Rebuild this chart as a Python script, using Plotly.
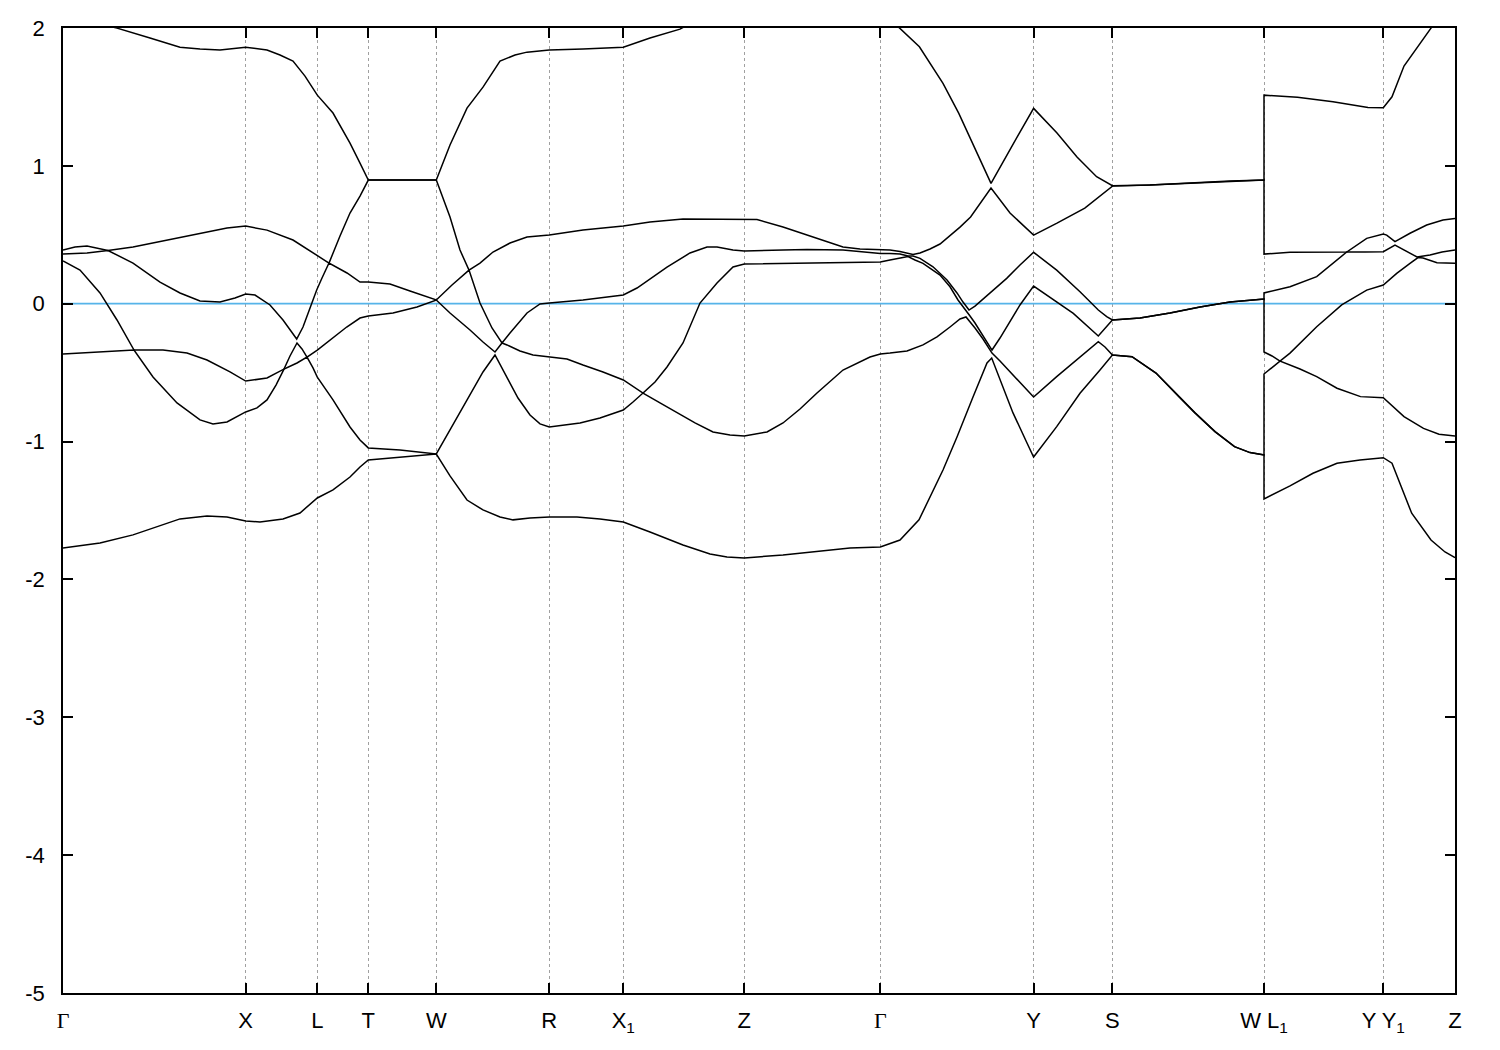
import plotly.graph_objects as go

# High-symmetry path positions (arbitrary path-length units) and labels
k_sym = [0.0, 0.1827, 0.2543, 0.3053, 0.3733, 0.4863, 0.5603, 0.6813,
         0.8173, 0.9706, 1.0494, 1.2010, 1.3203, 1.3920]
GAM = '<span style="font-family:Liberation Serif">Γ</span>'
k_labels = [GAM, "X", "L", "T", "W", "R", "X<sub>1</sub>", "Z",
            GAM, "Y", "S", "W L<sub>1</sub>", "Y Y<sub>1</sub>", "Z"]

y_ticks = [2, 1, 0, -1, -2, -3, -4, -5]
y_ticklabels = ["2", "1", "0", "-1", "-2", "-3", "-4", "-5"]

fermi_level = 0.0

# Bands (k, E in eV), sorted by energy index
band1 = [(0, -1.772), (0.037, -1.735), (0.070, -1.677), (0.117, -1.561), (0.144, -1.540),
         (0.164, -1.547), (0.1827, -1.576), (0.197, -1.583), (0.220, -1.561), (0.237, -1.518),
         (0.2543, -1.409), (0.270, -1.351), (0.287, -1.257), (0.297, -1.184), (0.3053, -1.133),
         (0.337, -1.112), (0.3733, -1.090), (0.387, -1.249), (0.404, -1.424), (0.420, -1.496),
         (0.437, -1.547), (0.450, -1.568), (0.467, -1.554), (0.4863, -1.547), (0.514, -1.547),
         (0.537, -1.561), (0.5603, -1.583), (0.587, -1.656), (0.620, -1.750), (0.647, -1.815),
         (0.664, -1.837), (0.6813, -1.844), (0.720, -1.822), (0.787, -1.772), (0.8173, -1.764),
         (0.837, -1.714), (0.856, -1.568), (0.880, -1.206), (0.894, -0.967), (0.910, -0.677),
         (0.924, -0.430), (0.9287, -0.394), (0.937, -0.553), (0.950, -0.792), (0.964, -1.010),
         (0.9706, -1.112), (0.9937, -0.892), (1.017, -0.650), (1.037, -0.481), (1.0494, -0.372),
         (1.069, -0.384), (1.093, -0.503), (1.116, -0.674), (1.132, -0.792), (1.152, -0.928),
         (1.1715, -1.037), (1.187, -1.080), (1.201, -1.097), (1.201, -1.416), (1.227, -1.322),
         (1.250, -1.230), (1.274, -1.157), (1.297, -1.133), (1.3203, -1.117), (1.329, -1.157),
         (1.339, -1.336), (1.3487, -1.520), (1.368, -1.714), (1.382, -1.801), (1.392, -1.842)]

band2 = [(0, -0.365), (0.037, -0.350), (0.071, -0.336), (0.090, -0.532), (0.114, -0.720),
         (0.137, -0.843), (0.150, -0.872), (0.164, -0.858), (0.1827, -0.785), (0.194, -0.756),
         (0.204, -0.698), (0.213, -0.590), (0.221, -0.474), (0.234, -0.430), (0.244, -0.387),
         (0.250, -0.466), (0.2543, -0.532), (0.270, -0.698), (0.287, -0.894), (0.297, -0.988),
         (0.3053, -1.046), (0.337, -1.061), (0.3733, -1.090), (0.387, -0.916), (0.405, -0.684),
         (0.420, -0.495), (0.432, -0.372), (0.444, -0.532), (0.455, -0.684), (0.467, -0.807),
         (0.477, -0.872), (0.4863, -0.894), (0.517, -0.865), (0.537, -0.829), (0.5603, -0.771),
         (0.570, -0.713), (0.580, -0.648), (0.597, -0.720), (0.614, -0.792), (0.632, -0.865),
         (0.650, -0.930), (0.667, -0.952), (0.6813, -0.959), (0.704, -0.930), (0.720, -0.865),
         (0.737, -0.764), (0.754, -0.648), (0.780, -0.481), (0.807, -0.387), (0.8173, -0.365),
         (0.827, -0.358), (0.844, -0.343), (0.860, -0.299), (0.874, -0.241), (0.887, -0.169),
         (0.897, -0.111), (0.903, -0.096), (0.912, -0.176), (0.920, -0.256), (0.925, -0.314),
         (0.929, -0.358), (0.937, -0.416), (0.950, -0.517), (0.957, -0.575), (0.9706, -0.677),
         (0.9937, -0.529), (1.017, -0.384), (1.0353, -0.276), (1.042, -0.314), (1.0494, -0.372),
         (1.069, -0.384), (1.093, -0.503), (1.116, -0.674), (1.132, -0.792), (1.152, -0.928),
         (1.1715, -1.037), (1.187, -1.080), (1.201, -1.097), (1.201, -0.510), (1.209, -0.466),
         (1.217, -0.416), (1.237, -0.474), (1.2537, -0.529), (1.274, -0.613), (1.2975, -0.674),
         (1.3203, -0.682), (1.341, -0.819), (1.3605, -0.904), (1.376, -0.947), (1.392, -0.959)]

band3 = [(0, 0.310), (0.017, 0.244), (0.037, 0.078), (0.054, -0.118), (0.071, -0.336),
         (0.100, -0.336), (0.124, -0.358), (0.144, -0.408), (0.167, -0.495), (0.1827, -0.561),
         (0.204, -0.539), (0.213, -0.503), (0.221, -0.474), (0.227, -0.379), (0.234, -0.285),
         (0.239, -0.328), (0.244, -0.387), (0.2543, -0.336), (0.267, -0.263), (0.2837, -0.169),
         (0.297, -0.104), (0.3053, -0.089), (0.330, -0.067), (0.354, -0.024), (0.3733, 0.027),
         (0.387, -0.067), (0.407, -0.191), (0.420, -0.278), (0.432, -0.350), (0.439, -0.285),
         (0.444, -0.299), (0.457, -0.343), (0.470, -0.372), (0.4863, -0.387), (0.504, -0.401),
         (0.520, -0.445), (0.540, -0.495), (0.5603, -0.553), (0.570, -0.597), (0.580, -0.648),
         (0.592, -0.568), (0.604, -0.459), (0.620, -0.285), (0.637, 0.005), (0.654, 0.150),
         (0.670, 0.266), (0.6813, 0.288), (0.737, 0.295), (0.787, 0.299), (0.8173, 0.302),
         (0.827, 0.317), (0.837, 0.331), (0.845, 0.342), (0.852, 0.317), (0.860, 0.293),
         (0.877, 0.208), (0.887, 0.123), (0.895, 0.027), (0.902, -0.046), (0.907, -0.089),
         (0.912, -0.140), (0.920, -0.234), (0.925, -0.299), (0.929, -0.336), (0.937, -0.249),
         (0.944, -0.162), (0.957, -0.009), (0.9706, 0.128), (0.9937, 0.015), (1.0103, -0.070),
         (1.0353, -0.234), (1.042, -0.176), (1.0494, -0.118), (1.077, -0.104), (1.107, -0.067),
         (1.137, -0.024), (1.167, 0.012), (1.201, 0.034), (1.201, -0.350), (1.209, -0.379),
         (1.217, -0.416), (1.227, -0.358), (1.237, -0.287), (1.2537, -0.167), (1.2787, -0.009),
         (1.3037, 0.099), (1.3203, 0.136), (1.3337, 0.220), (1.347, 0.292), (1.355, 0.335),
         (1.360, 0.331), (1.374, 0.297), (1.392, 0.293)]

band4 = [(0, 0.360), (0.024, 0.368), (0.045, 0.386), (0.070, 0.295), (0.097, 0.157),
         (0.117, 0.078), (0.137, 0.020), (0.157, 0.012), (0.172, 0.041), (0.1827, 0.070),
         (0.192, 0.063), (0.200, 0.027), (0.207, -0.009), (0.220, -0.118), (0.227, -0.191),
         (0.2337, -0.256), (0.240, -0.169), (0.2487, 0.005), (0.2537, 0.099), (0.259, 0.186),
         (0.266, 0.295), (0.284, 0.223), (0.297, 0.157), (0.3053, 0.157), (0.327, 0.143),
         (0.347, 0.092), (0.3733, 0.027), (0.389, 0.136), (0.406, 0.244), (0.417, 0.005),
         (0.429, -0.176), (0.439, -0.285), (0.447, -0.212), (0.464, -0.067), (0.477, -0.002),
         (0.4863, 0.005), (0.520, 0.027), (0.5603, 0.063), (0.574, 0.114), (0.604, 0.266),
         (0.627, 0.368), (0.644, 0.411), (0.654, 0.411), (0.670, 0.389), (0.6813, 0.382),
         (0.720, 0.389), (0.744, 0.394), (0.780, 0.389), (0.797, 0.379), (0.8173, 0.365),
         (0.827, 0.365), (0.837, 0.360), (0.845, 0.346), (0.850, 0.346), (0.857, 0.329),
         (0.870, 0.268), (0.884, 0.172), (0.894, 0.078), (0.900, 0.012), (0.906, -0.046),
         (0.912, -0.017), (0.927, 0.075), (0.9437, 0.184), (0.957, 0.281), (0.9706, 0.373),
         (0.9937, 0.244), (1.017, 0.087), (1.0353, -0.046), (1.0437, -0.094), (1.0494, -0.118),
         (1.077, -0.104), (1.107, -0.067), (1.137, -0.024), (1.167, 0.012), (1.201, 0.034),
         (1.201, 0.078), (1.227, 0.123), (1.2537, 0.196), (1.2837, 0.375), (1.302, 0.375),
         (1.3203, 0.377), (1.332, 0.426), (1.342, 0.386), (1.347, 0.365), (1.354, 0.339),
         (1.367, 0.353), (1.379, 0.375), (1.392, 0.389)]

band5 = [(0, 0.389), (0.012, 0.411), (0.024, 0.418), (0.045, 0.386), (0.070, 0.411),
         (0.104, 0.462), (0.137, 0.513), (0.164, 0.549), (0.1827, 0.563), (0.204, 0.534),
         (0.230, 0.462), (0.2503, 0.365), (0.266, 0.295), (0.277, 0.491), (0.287, 0.658),
         (0.297, 0.781), (0.3053, 0.897), (0.3733, 0.897), (0.387, 0.629), (0.397, 0.389),
         (0.406, 0.244), (0.417, 0.295), (0.430, 0.375), (0.447, 0.440), (0.464, 0.484),
         (0.4863, 0.498), (0.520, 0.534), (0.5603, 0.563), (0.587, 0.592), (0.620, 0.614),
         (0.6813, 0.614), (0.694, 0.611), (0.720, 0.556), (0.754, 0.476), (0.780, 0.411),
         (0.797, 0.397), (0.8173, 0.394), (0.827, 0.389), (0.837, 0.379), (0.844, 0.365),
         (0.850, 0.357), (0.857, 0.368), (0.867, 0.397), (0.877, 0.433), (0.888, 0.498),
         (0.897, 0.556), (0.9076, 0.629), (0.917, 0.723), (0.928, 0.839), (0.947, 0.658),
         (0.9706, 0.498), (0.994, 0.585), (1.0218, 0.694), (1.0494, 0.853), (1.087, 0.861),
         (1.132, 0.877), (1.167, 0.890), (1.201, 0.897), (1.201, 0.360), (1.227, 0.373),
         (1.2537, 0.375), (1.2837, 0.375), (1.3037, 0.474), (1.3203, 0.505), (1.3237, 0.498),
         (1.332, 0.450), (1.347, 0.511), (1.3637, 0.571), (1.380, 0.607), (1.392, 0.618)]

band6 = [(0, 2.10), (0.027, 2.05), (0.054, 1.999), (0.087, 1.927), (0.117, 1.861),
         (0.137, 1.847), (0.157, 1.840), (0.1827, 1.861), (0.204, 1.840), (0.217, 1.804),
         (0.230, 1.760), (0.242, 1.651), (0.2543, 1.513), (0.270, 1.383), (0.287, 1.165),
         (0.297, 1.020), (0.3053, 0.897), (0.3733, 0.897), (0.387, 1.151), (0.404, 1.419),
         (0.420, 1.571), (0.437, 1.760), (0.452, 1.804), (0.464, 1.825), (0.4863, 1.840),
         (0.520, 1.847), (0.5603, 1.861), (0.587, 1.927), (0.617, 1.992), (0.6813, 2.25),
         (0.754, 2.30), (0.8173, 2.12), (0.8367, 1.999), (0.8564, 1.864), (0.880, 1.598),
         (0.8958, 1.381), (0.9115, 1.139), (0.928, 0.873), (0.949, 1.144), (0.9706, 1.417),
         (0.994, 1.238), (1.014, 1.064), (1.0336, 0.921), (1.0494, 0.856), (1.087, 0.861),
         (1.132, 0.877), (1.167, 0.890), (1.201, 0.897), (1.201, 1.513), (1.2345, 1.497),
         (1.270, 1.465), (1.305, 1.424), (1.3203, 1.421), (1.329, 1.501), (1.341, 1.724),
         (1.3566, 1.888), (1.368, 1.999), (1.392, 2.22)]

bands = [band1, band2, band3, band4, band5, band6]

fig = go.Figure()

# Fermi level
fig.add_trace(go.Scatter(x=[k_sym[0], k_sym[-1]], y=[fermi_level, fermi_level],
                         mode="lines", line=dict(color="#56B4E9", width=1.8),
                         hoverinfo="skip", showlegend=False))

for b in bands:
    fig.add_trace(go.Scatter(x=[p[0] for p in b], y=[p[1] for p in b],
                             mode="lines", line=dict(color="black", width=1.5),
                             showlegend=False))

axis_font = dict(family="Liberation Sans, Arial, sans-serif", size=22, color="black")

# page body adds an 8px offset; figure sized so the plot frame lands where the reference has it
fig.update_layout(
    width=1492, height=1042,
    margin=dict(l=55, r=45, t=20, b=57, autoexpand=False),
    paper_bgcolor="white", plot_bgcolor="white",
    showlegend=False,
    xaxis=dict(range=[k_sym[0], k_sym[-1]], tickmode="array", tickvals=k_sym, ticktext=k_labels,
               ticks="inside", ticklen=10, tickwidth=1.5, tickcolor="black",
               showline=True, linecolor="black", linewidth=1.5, mirror="ticks",
               showgrid=True, gridcolor="#a0a0a0", gridwidth=1, griddash="3px,3px",
               zeroline=False, tickfont=axis_font, ticklabelstandoff=7),
    yaxis=dict(range=[-5, 2], tickmode="array", tickvals=y_ticks, ticktext=y_ticklabels,
               ticks="inside", ticklen=10, tickwidth=1.5, tickcolor="black",
               showline=True, linecolor="black", linewidth=1.5, mirror="ticks",
               showgrid=False, zeroline=False, tickfont=axis_font, ticklabelstandoff=12),
)

fig.write_html("out.html")
